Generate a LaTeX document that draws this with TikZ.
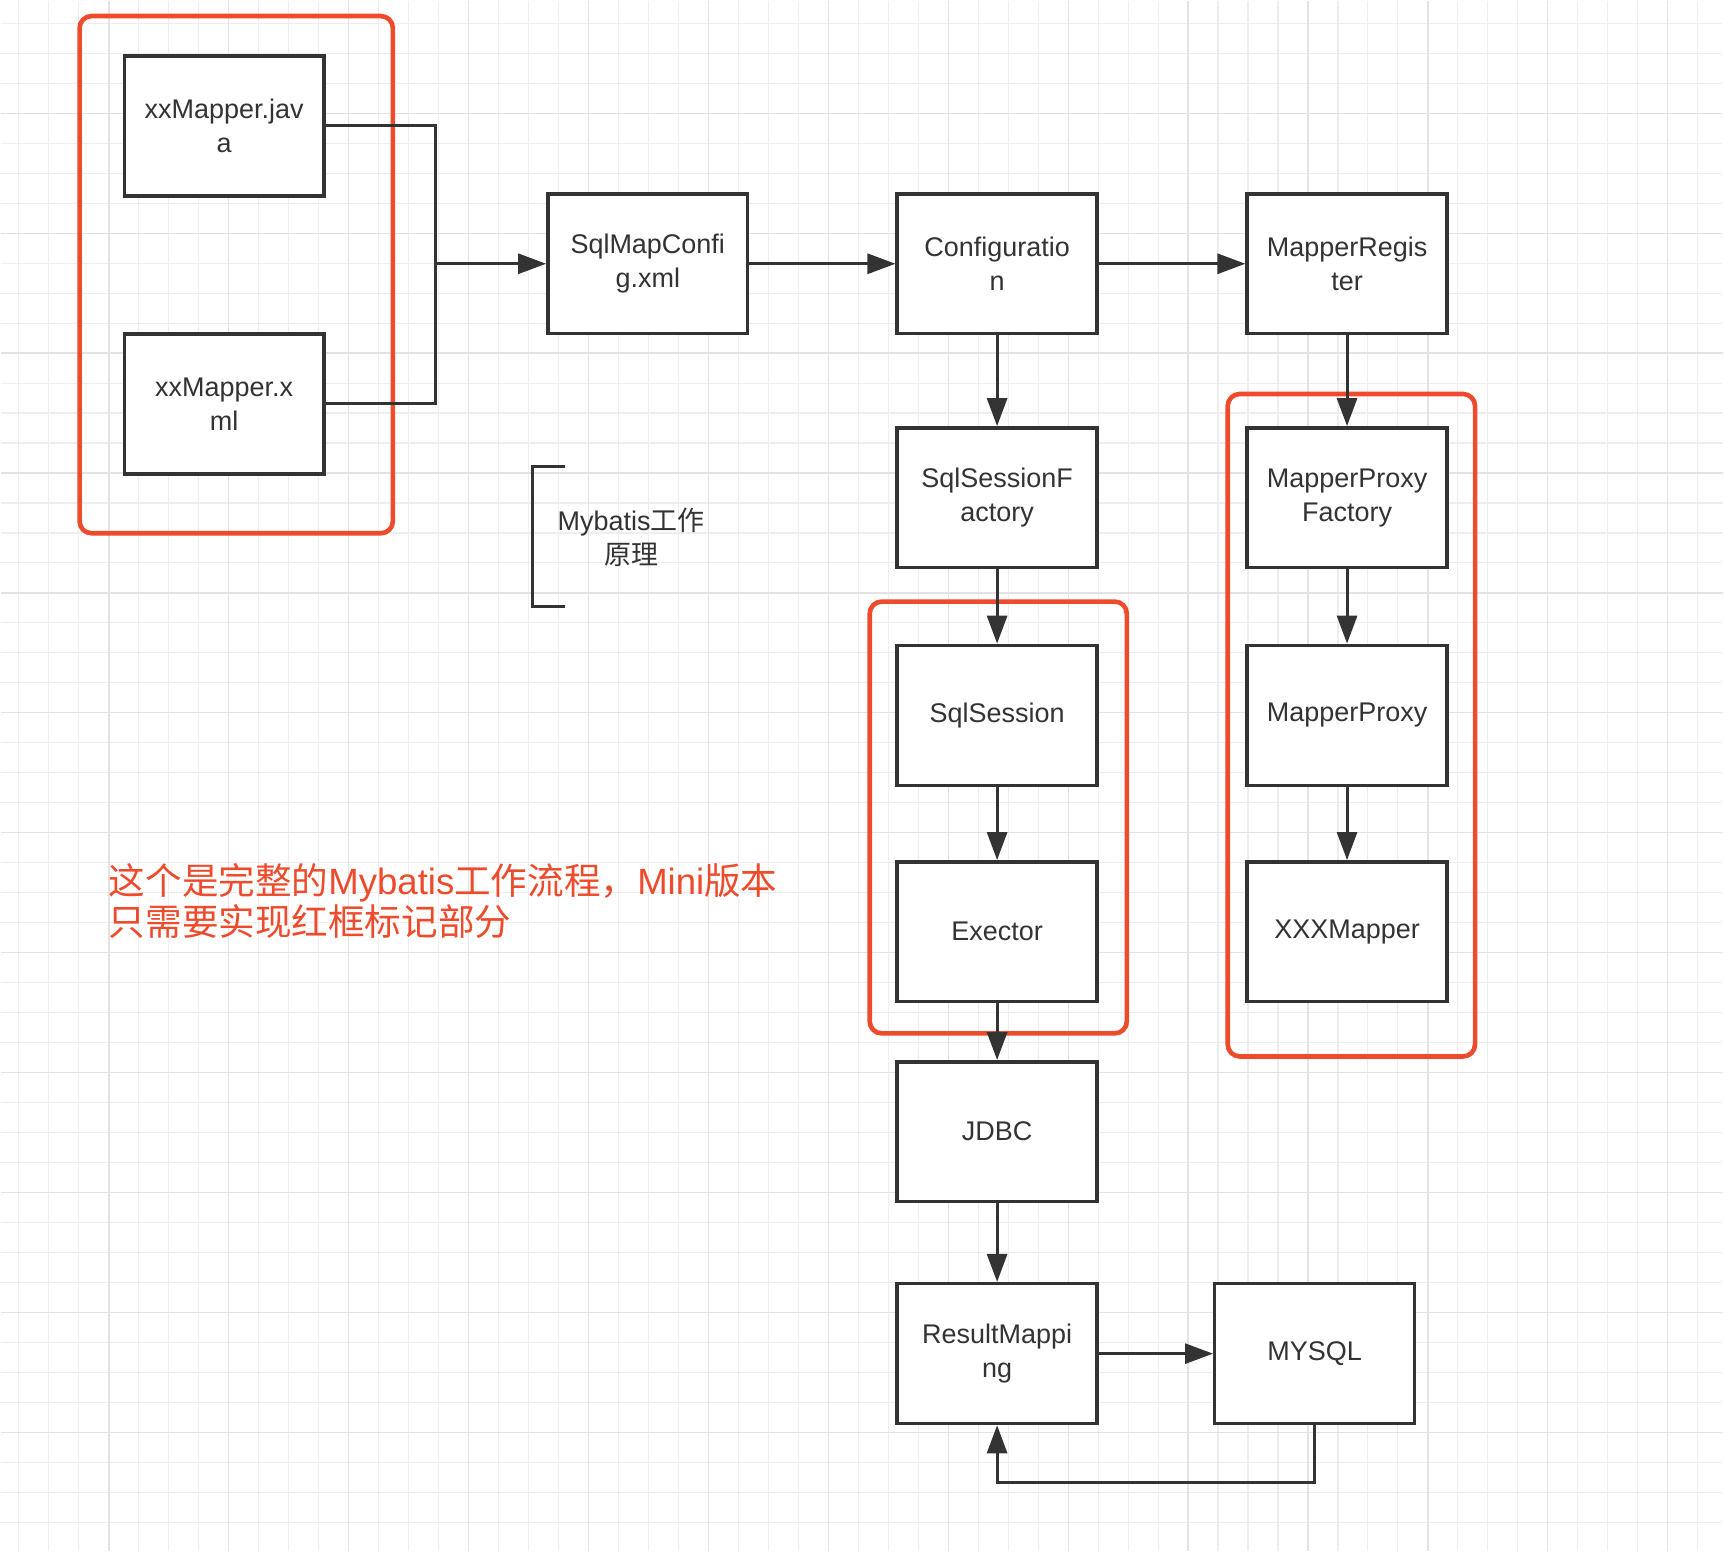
\documentclass[tikz,border=0pt]{standalone}
\usepackage{fontspec}
\setmainfont{Liberation Sans}
\newfontfamily\cjk{Noto Sans CJK SC}
\usetikzlibrary{arrows.meta,positioning}
\definecolor{cInk}{HTML}{333333}
\definecolor{cRed}{HTML}{EE4A2C}
\definecolor{cGrid}{HTML}{EEEEEE}
\definecolor{cGridMaj}{HTML}{E3E3E3}
\tikzset{
  blk/.style={rectangle,draw=cInk,fill=white,line width=1.75pt,minimum width=100pt,minimum height=70pt,inner sep=2pt,align=center,text=cInk,font=\fontsize{13.5}{17}\selectfont},
  frm/.style={draw=cRed,line width=2.3pt,rounded corners=6pt},
  edg/.style={draw=cInk,line width=1.5pt},
  arr/.style={edg,-{Triangle[length=14pt,width=10pt]}},
  lbl/.style={align=center,text=cInk,font=\fontsize{13.5}{17}\selectfont},
  note/.style={align=left,text=cRed,anchor=west,inner sep=0pt,font=\fontsize{18.3}{18.7}\selectfont},
}

\begin{document}
\begin{tikzpicture}[x=0.5pt,y=-0.5pt]
  \fill[white] (0,0) rectangle (1724,1552);
  % grid
  \foreach \i in {0,...,56}{\draw[cGrid,line width=.55pt] ({18.3+30*\i},0) -- ({18.3+30*\i},1552);}
  \foreach \i in {0,...,50}{\draw[cGrid,line width=.55pt] (0,{22.7+30*\i}) -- (1724,{22.7+30*\i});}
  \foreach \i in {0,...,13}{\draw[cGridMaj,line width=.65pt] ({108.3+120*\i},0) -- ({108.3+120*\i},1552);}
  \foreach \i in {0,...,11}{\draw[cGridMaj,line width=.65pt] (0,{112.7+120*\i}) -- (1724,{112.7+120*\i});}

  \node[blk] (java) at (223.7,125.3) {xxMapper.jav\\a};
  \node[blk] (xml) at (223.7,403.5) {xxMapper.x\\ml};
  \node[blk] (smc) at (647.6,263.3) {SqlMapConfi\\g.xml};
  \node[blk] (conf) at (997.2,263.3) {Configuratio\\n};
  \node[blk] (reg) at (1347.4,263.3) {MapperRegis\\ter};
  \node[blk] (ssf) at (997.2,497.5) {SqlSessionF\\actory};
  \node[blk] (mpf) at (1347.4,497.5) {MapperProxy\\Factory};
  \node[blk] (ss) at (997.2,715.2) {SqlSession};
  \node[blk] (mp) at (1347.4,715.2) {MapperProxy};
  \node[blk] (exe) at (997.2,931.8) {Exector};
  \node[blk] (xxx) at (1347.4,931.8) {XXXMapper};
  \node[blk] (jdbc) at (997.2,1131.9) {JDBC};
  \node[blk] (rm) at (997.2,1354) {ResultMappi\\ng};
  \node[blk] (mysql) at (1315,1354) {MYSQL};

  % red marks
  \draw[frm] (79,15.4) rectangle (392.5,533);
  \draw[frm] (869.7,601.4) rectangle (1127,1033.5);
  \draw[frm] (1228,393.6) rectangle (1475.5,1056.6);

  \coordinate (jn) at (435.4,263.3);
  \coordinate (lp) at (997.2,1483);
  \draw[edg] (java.east) -| (jn) |- (xml.east);
  \draw[arr] (jn) -- (smc.west);
  \draw[arr] (smc) -- (conf);
  \draw[arr] (conf) -- (reg);
  \draw[arr] (conf) -- (ssf);
  \draw[arr] (reg) -- (mpf);
  \draw[arr] (ssf) -- (ss);
  \draw[arr] (ss) -- (exe);
  \draw[arr] (exe) -- (jdbc);
  \draw[arr] (jdbc) -- (rm);
  \draw[arr] (mpf) -- (mp);
  \draw[arr] (mp) -- (xxx);
  \draw[arr] (rm) -- (mysql);
  \draw[arr] (mysql.south) |- (lp) -- (rm.south);

  \draw[edg] (565,466) -- (532,466) -- (532,606) -- (565,606);
  \node[lbl] (tag) at (631,537) {Mybatis{\cjk 工作}\\{\cjk 原理}};
  \node[note] (memo) at (108,901) {{\cjk 这个是完整的}Mybatis{\cjk 工作流程，}Mini{\cjk 版本}\\{\cjk 只需要实现红框标记部分}};
\end{tikzpicture}
\end{document}
